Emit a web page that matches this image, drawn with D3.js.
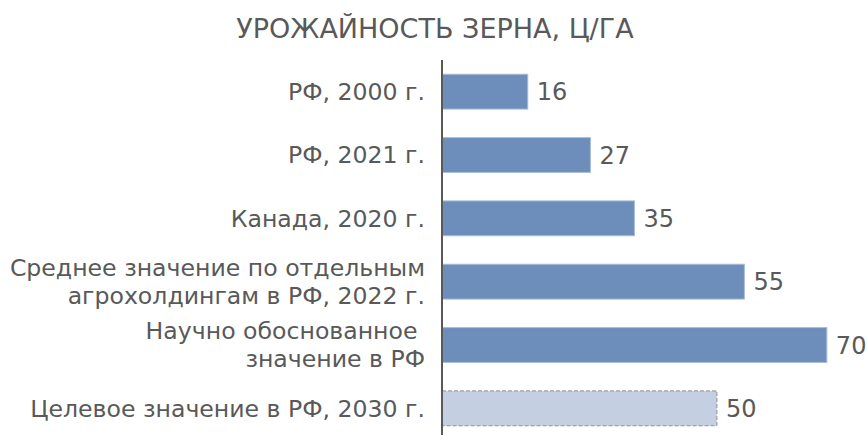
<!DOCTYPE html>
<html>
<head>
<meta charset="utf-8">
<script src="https://cdn.jsdelivr.net/npm/d3@7"></script>
<style>
  body { margin: 0; background: #fff; }
  svg text { font-family: 'DejaVu Sans'; fill: #595959; }
</style>
</head>
<body>
<svg id="chart" width="867" height="435"></svg>
<script>
// Data
const categories = [
  ["РФ, 2000 г."],
  ["РФ, 2021 г."],
  ["Канада, 2020 г."],
  ["Среднее значение по отдельным", "агрохолдингам в РФ, 2022 г."],
  ["Научно обоснованное ", "значение в РФ"],
  ["Целевое значение в РФ, 2030 г."]
];
const values = [15.6, 27, 35, 55, 70, 50];
const valueLabels = ["16", "27", "35", "55", "70", "50"];
const isTarget = [false, false, false, false, false, true];
const title = "УРОЖАЙНОСТЬ ЗЕРНА, Ц/ГА";

const svg = d3.select("#chart");
const width = 867;
const height = 435;
const margin = { top: 60, right: 0, bottom: -5, left: 442 };

const ids = d3.range(values.length);

// Scales
const xScale = d3.scaleLinear()
  .domain([0, 77.3])
  .range([margin.left, width - margin.right]);

const yScale = d3.scaleBand()
  .domain(ids)
  .range([margin.top, height - margin.bottom])
  .paddingInner(0.45)
  .paddingOuter(0.225);

// Title
svg.append("text")
  .attr("x", 435)
  .attr("y", 38)
  .attr("text-anchor", "middle")
  .style("font-size", "27px")
  .text(title);

// Bars
svg.selectAll(".bar")
  .data(ids)
  .enter()
  .append("rect")
  .attr("x", xScale(0))
  .attr("y", (i) => yScale(i))
  .attr("width", (i) => xScale(values[i]) - xScale(0))
  .attr("height", yScale.bandwidth())
  .attr("fill", (i) => (isTarget[i] ? "#c4cfe1" : "#6d8ebb"))
  .attr("stroke", (i) => (isTarget[i] ? "#8c9099" : "#a9bcd8"))
  .attr("stroke-width", 1)
  .attr("stroke-dasharray", (i) => (isTarget[i] ? "4,2" : null));

// Value labels
svg.selectAll(".val")
  .data(ids)
  .enter()
  .append("text")
  .attr("x", (i) => xScale(values[i]) + 9)
  .attr("y", (i) => yScale(i) + yScale.bandwidth() / 2)
  .attr("dy", "0.36em")
  .style("font-size", "24px")
  .text((i) => valueLabels[i]);

// Category labels
const lineHeight = 28;
const cat = svg.selectAll(".cat")
  .data(ids)
  .enter()
  .append("text")
  .attr("text-anchor", "end")
  .style("font-size", "23.6px")
  .style("white-space", "pre");

cat.each(function (i) {
  const lines = categories[i];
  const cy = yScale(i) + yScale.bandwidth() / 2;
  const startY = cy - ((lines.length - 1) * lineHeight) / 2;
  lines.forEach((ln, k) => {
    d3.select(this)
      .append("tspan")
      .attr("x", 425)
      .attr("y", startY + k * lineHeight)
      .attr("dy", "0.36em")
      .text(ln);
  });
});

// Axis line
svg.append("g")
  .attr("transform", `translate(${xScale(0)},0)`)
  .call(d3.axisLeft(yScale).tickSize(0).tickFormat(""))
  .call((g) => g.select(".domain")
    .attr("stroke", "#595959")
    .attr("stroke-width", 2)
    .attr("d", `M0,${margin.top}V${height}`));
</script>
</body>
</html>
